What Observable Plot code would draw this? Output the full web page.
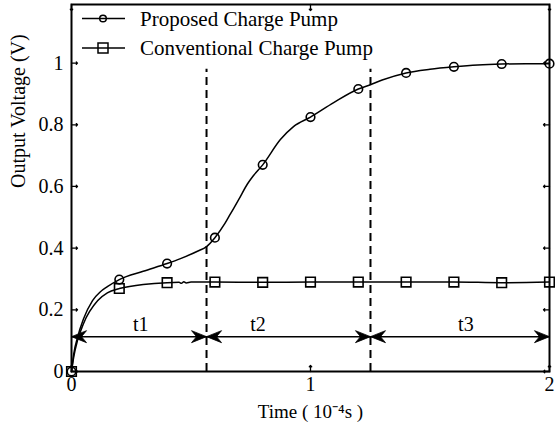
<!DOCTYPE html>
<html>
<head>
<meta charset="utf-8">
<script src="https://cdn.jsdelivr.net/npm/d3@7"></script>
<script src="https://cdn.jsdelivr.net/npm/@observablehq/plot@0.6"></script>
<style>
  html, body { margin: 0; padding: 0; background: #fff; }
  #chart svg { display: block; }
</style>
</head>
<body>
<div id="chart"></div>
<script>
// ---- data ----
const proposedT = [0, 0.01, 0.025, 0.05, 0.088, 0.12, 0.15, 0.2, 0.3, 0.4, 0.456, 0.527, 0.565, 0.6, 0.642, 0.665, 0.7, 0.736, 0.76, 0.8, 0.874, 0.93, 1.0, 1.097, 1.2, 1.251, 1.3, 1.4, 1.5, 1.6, 1.7, 1.8, 1.9, 2.0];
const proposedV = [0, 0.06, 0.11, 0.17, 0.23, 0.258, 0.275, 0.298, 0.325, 0.35, 0.366, 0.39, 0.405, 0.434, 0.48, 0.511, 0.558, 0.608, 0.634, 0.67, 0.752, 0.795, 0.825, 0.872, 0.916, 0.93, 0.945, 0.968, 0.98, 0.988, 0.994, 0.997, 0.998, 0.998];
const conventionalT = [0, 0.01, 0.025, 0.05, 0.11, 0.15, 0.19, 0.2, 0.3, 0.4, 0.45, 0.46, 0.47, 0.48, 0.5, 0.6, 0.8, 1.0, 1.2, 1.4, 1.6, 1.8, 2.0];
const conventionalV = [0, 0.05, 0.10, 0.155, 0.23, 0.255, 0.267, 0.269, 0.282, 0.288, 0.289, 0.286, 0.291, 0.287, 0.29, 0.29, 0.289, 0.29, 0.29, 0.29, 0.29, 0.288, 0.29];
const markerT = [0, 0.2, 0.4, 0.6, 0.8, 1.0, 1.2, 1.4, 1.6, 1.8, 2.0];
const proposedMarkers = [0, 0.298, 0.35, 0.434, 0.67, 0.825, 0.916, 0.968, 0.988, 0.997, 0.998];
const conventionalMarkers = [0, 0.269, 0.288, 0.29, 0.289, 0.29, 0.29, 0.29, 0.29, 0.288, 0.29];
const seriesNames = ["Proposed Charge Pump", "Conventional Charge Pump"];
const seriesSymbols = ["circle", "square"];
const phaseBounds = [0, 0.565, 1.251, 2];
const phaseLabels = ["t1", "t2", "t3"];
const phaseLabelX = [0.29, 0.78, 1.65];
const arrowLevel = 0.113;
const phaseLabelLevel = 0.152;
const dashTop = 0.98;
const xTicks = [0, 1, 2];
const yTicks = [0, 0.2, 0.4, 0.6, 0.8, 1];
const xDomain = [0, 2];
const yDomain = [0, 1.19];
const xTitle = "Time ( 10\u207B\u2074s )";
const yTitle = "Output Voltage (V)";

// ---- tables built from the arrays ----
const proposed = proposedT.map((t, i) => ({t, v: proposedV[i]}));
const conventional = conventionalT.map((t, i) => ({t, v: conventionalV[i]}));
const propMk = markerT.map((t, i) => ({t, v: proposedMarkers[i]}));
const convMk = markerT.map((t, i) => ({t, v: conventionalMarkers[i]}));
const heads = [];
for (let i = 0; i < phaseBounds.length - 1; i++) {
  heads.push({x: phaseBounds[i], rot: 180});
  heads.push({x: phaseBounds[i + 1], rot: 0});
}
const labels = phaseLabels.map((s, i) => ({s, x: phaseLabelX[i]}));
const dashes = phaseBounds.slice(1, -1);
const legend = seriesNames.map((name, i) => ({name, symbol: seriesSymbols[i], row: i}));

// barbed arrow head symbol, tip at origin, pointing right
const arrowHead = {
  draw(ctx) {
    ctx.moveTo(0, 0);
    ctx.lineTo(-15, -6);
    ctx.lineTo(-10, 0);
    ctx.lineTo(-15, 6);
    ctx.closePath();
  }
};

const font = "'Liberation Serif', 'Times New Roman', serif";
const rowGap = 29.5;

const chart = Plot.plot({
  width: 555,
  height: 443,
  marginLeft: 71,
  marginRight: 6,
  marginTop: 4,
  marginBottom: 72,
  style: {fontFamily: font, fontSize: "20px", color: "black", background: "white"},
  x: {domain: xDomain},
  y: {domain: yDomain},
  marks: [
    // dashed phase boundaries
    Plot.ruleX(dashes, {x: d => d, y1: 0, y2: dashTop, stroke: "black", strokeWidth: 2, strokeDasharray: "8,5"}),
    // phase arrow line
    Plot.ruleY([arrowLevel], {x1: xDomain[0], x2: xDomain[1], stroke: "black", strokeWidth: 1.5}),
    Plot.dot(heads, {x: "x", y: () => arrowLevel, symbol: arrowHead, rotate: "rot", fill: "black", stroke: "black", strokeWidth: 0.8}),
    Plot.text(labels, {x: "x", y: () => phaseLabelLevel, text: "s", fontSize: 20, fill: "black"}),
    // curves
    Plot.line(proposed, {x: "t", y: "v", stroke: "black", strokeWidth: 1.5, curve: "monotone-x"}),
    Plot.line(conventional, {x: "t", y: "v", stroke: "black", strokeWidth: 1.5, curve: "monotone-x"}),
    Plot.dot(propMk, {x: "t", y: "v", r: 4.3, stroke: "black", strokeWidth: 1.6, fill: "none"}),
    Plot.dot(convMk, {x: "t", y: "v", r: 5.4, symbol: "square", stroke: "black", strokeWidth: 1.6, fill: "none"}),
    // frame and inward ticks
    Plot.frame({stroke: "black", strokeWidth: 2}),
    Plot.vector(yTicks, {y: d => d, frameAnchor: "left", rotate: 90, length: 6, anchor: "start", stroke: "black", strokeWidth: 1.3}),
    Plot.vector(yTicks, {y: d => d, frameAnchor: "right", rotate: -90, length: 6, anchor: "start", stroke: "black", strokeWidth: 1.3}),
    Plot.vector(xTicks, {x: d => d, frameAnchor: "bottom", rotate: 0, length: 6, anchor: "start", stroke: "black", strokeWidth: 1.3}),
    Plot.vector(xTicks, {x: d => d, frameAnchor: "top", rotate: 180, length: 6, anchor: "start", stroke: "black", strokeWidth: 1.3}),
    Plot.axisX({ticks: xTicks, tickSize: 0, tickPadding: 5, tickFormat: d => String(d), label: null, fontSize: 20}),
    Plot.axisY({ticks: yTicks, tickSize: 0, tickPadding: 8, tickFormat: d => String(d), label: null, fontSize: 20}),
    Plot.text([xTitle], {frameAnchor: "bottom", dy: 46, text: d => d, fontSize: 19, fill: "black"}),
    Plot.text([yTitle], {frameAnchor: "left", dx: -53, rotate: -90, text: d => d, fontSize: 20, fill: "black"})
  ]
});
document.getElementById("chart").appendChild(chart);

// legend rows (lines, symbols, labels) inside the frame, top-left
const svg = d3.select(chart);
const lg = svg.append("g").attr("transform", "translate(71,4)");
legend.forEach((d, i) => {
  const y = 14.5 + i * rowGap;
  lg.append("line").attr("x1", 11).attr("x2", 54).attr("y1", y).attr("y2", y).attr("stroke", "black").attr("stroke-width", 1.5);
  if (d.symbol === "circle") {
    lg.append("circle").attr("cx", 32).attr("cy", y).attr("r", 3.3).attr("fill", "none").attr("stroke", "black").attr("stroke-width", 1.5);
  } else {
    lg.append("rect").attr("x", 27).attr("y", y - 5).attr("width", 10).attr("height", 10).attr("fill", "none").attr("stroke", "black").attr("stroke-width", 1.5);
  }
  lg.append("text").attr("x", 69).attr("y", y).attr("dy", "0.35em").attr("text-anchor", "start")
    .attr("font-size", 21).attr("fill", "black").text(d.name);
});
</script>
</body>
</html>
